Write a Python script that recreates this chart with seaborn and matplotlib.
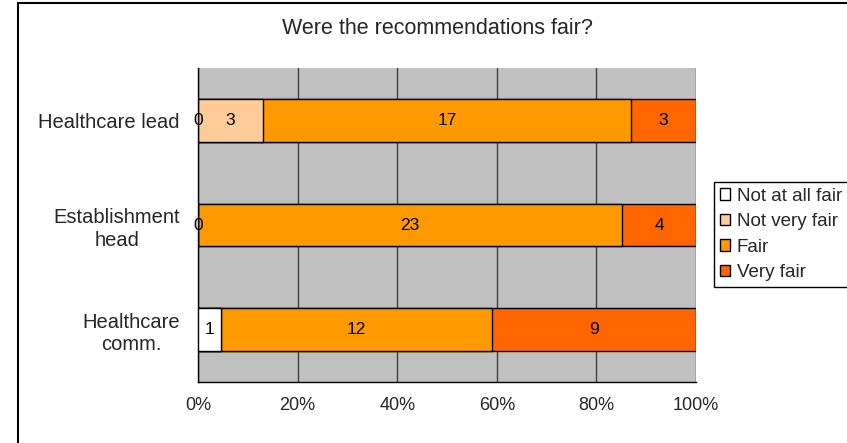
import matplotlib
matplotlib.use("Agg")
import matplotlib.pyplot as plt
from matplotlib.patches import Rectangle, Patch
import seaborn as sns
import pandas as pd
import numpy as np

# Survey answers per respondent group (counts); NaN = no answer category reported
groups = ["Healthcare lead", "Establishment head", "Healthcare comm."]
group_labels = ["Healthcare lead", "Establishment\nhead", "Healthcare\ncomm."]
responses = ["Not at all fair", "Not very fair", "Fair", "Very fair"]
not_at_all_fair = [0, 0, 1]
not_very_fair = [3, np.nan, np.nan]
fair = [17, 23, 12]
very_fair = [3, 4, 9]
x_ticks = [0, 20, 40, 60, 80, 100]
x_tick_labels = ["0%", "20%", "40%", "60%", "80%", "100%"]
title = "Were the recommendations fair?"

colors = ["#FFFFFF", "#FFCC99", "#FF9900", "#FF6600"]

sns.set_theme(style="white")
plt.rcParams["font.family"] = ["Liberation Sans", "DejaVu Sans"]

counts = pd.DataFrame(
    {"group": groups,
     responses[0]: not_at_all_fair,
     responses[1]: not_very_fair,
     responses[2]: fair,
     responses[3]: very_fair}
)
vals = counts[responses].fillna(0)
pct = vals.div(vals.sum(axis=1), axis=0) * 100
cum = pct.cumsum(axis=1)
cum["group"] = groups

fig = plt.figure(figsize=(8.47, 4.43), dpi=100)
ax = fig.add_axes([198 / 847, 1 - 382 / 443, (696 - 198) / 847, (382 - 68) / 443])
ax.set_facecolor("#C0C0C0")

# stacked bars: draw cumulative totals from the outermost segment inwards
for resp, col in reversed(list(zip(responses, colors))):
    sns.barplot(data=cum, y="group", x=resp, order=groups, orient="h",
                color=col, saturation=1, edgecolor="black", linewidth=1,
                width=0.41, errorbar=None, ax=ax, zorder=3)

# segment value labels
for j, resp in enumerate(responses):
    for i, g in enumerate(groups):
        v = counts[resp].iloc[i]
        if pd.isna(v):
            continue
        xc = cum[resp].iloc[i] - pct[resp].iloc[i] / 2
        ax.text(xc, i, f"{int(v)}", ha="center", va="center",
                fontsize=12.5, color="black", zorder=5)

ax.set_xlim(0, 100)
ax.set_ylim(2.5, -0.5)
ax.set_xticks(x_ticks)
ax.set_xticklabels(x_tick_labels, fontsize=13)
ax.xaxis.grid(True, color="#404040", linewidth=1, zorder=1)
ax.set_axisbelow(True)
ax.tick_params(axis="x", direction="out", length=3, width=1, color="black", pad=8)

ax.set_yticks([-0.5, 0.5, 1.5, 2.5])
ax.set_yticklabels([])
ax.set_yticks([0, 1, 2], minor=True)
ax.set_yticklabels(group_labels, minor=True, fontsize=14.5,
                   multialignment="center", linespacing=1.25)
ax.tick_params(axis="y", which="major", direction="out", length=7, width=1, color="black")
ax.tick_params(axis="y", which="minor", length=0, pad=13)

ax.set_xlabel("")
ax.set_ylabel("")
for s in ["top", "right"]:
    ax.spines[s].set_visible(False)
for s in ["left", "bottom"]:
    ax.spines[s].set_color("black")
    ax.spines[s].set_linewidth(1)

fig.text(437 / 847, 1 - 28 / 443, title, ha="center", va="center", fontsize=15.5)

# legend box runs past the right edge of the chart area
handles = [Patch(facecolor=c, edgecolor="black", linewidth=1) for c in colors]
fig.legend(handles, responses, loc="upper left", mode="expand",
           bbox_to_anchor=(714 / 847, 1 - 182 / 443, 0.2, 0), fontsize=13.5,
           frameon=True, fancybox=False, edgecolor="black", framealpha=1,
           handlelength=0.55, handleheight=0.55, handletextpad=0.35,
           borderpad=0.3, labelspacing=0.45, borderaxespad=0)

# outer chart frame (extends past the right/bottom edges)
fig.add_artist(Rectangle((18 / 847, -0.1), 1.2, 1 - 3 / 443 + 0.1,
                         transform=fig.transFigure, fill=False,
                         edgecolor="black", linewidth=1.5))

fig.savefig("out.png", dpi=100)
